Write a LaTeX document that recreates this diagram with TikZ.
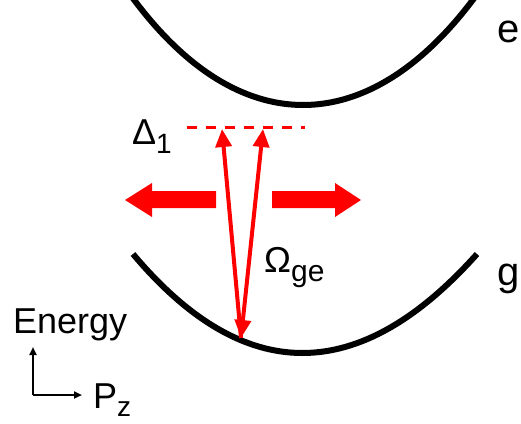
\documentclass[tikz,border=0pt]{standalone}
\usepackage{fontspec}
\setmainfont{Liberation Sans}
\usetikzlibrary{arrows.meta}
\begin{document}
\begin{tikzpicture}[x=1pt,y=-1pt,
  well/.style={line width=6pt,black},
  beam/.style={red,line width=4pt,-{Triangle[length=18pt,width=16pt]}},
  beambi/.style={red,line width=4pt,{Triangle[length=18pt,width=16pt]}-{Triangle[length=18pt,width=16pt]}},
  detuning/.style={red,line width=3pt,dash pattern=on 10pt off 9pt},
  bigarrow/.style={fill=red,draw=none},
  axisarrow/.style={line width=2pt,-{Triangle[length=8pt,width=7pt]}},
  lbl/.style={inner sep=0pt,anchor=base west,font=\fontsize{36}{42}\selectfont},
  statelbl/.style={inner sep=0pt,anchor=base west,font=\fontsize{40}{48}\selectfont}]
\useasboundingbox (0,0) rectangle (521,423);
% potential curves
\draw[well] (132,-3) .. controls (238,141) and (368,141) .. (475,-3);
\draw[well] (133,254) .. controls (244,386) and (359,386) .. (477,254);
% state labels
\node[statelbl] (e) at (497,42) {e};
\node[statelbl] (g) at (497,285) {g};
% detuning line
\coordinate (dl) at (187,127);
\coordinate (dr) at (305,127);
\draw[detuning] (dl) -- (dr);
\node[lbl] (delta) at (132,144) {Δ\raisebox{-9pt}{\fontsize{28}{32}\selectfont 1}};
% Raman beams
\coordinate (bot) at (241,338);
\coordinate (top1) at (222,129);
\coordinate (top2) at (263,129);
\draw[beam] (bot) -- (top1);
\draw[beambi] (bot) -- (top2);
\node[lbl] (omega) at (264,272) {Ω\raisebox{-9pt}{\fontsize{30}{34}\selectfont ge}};
% momentum kick arrows
\fill[bigarrow] (216,191) -- (152,191) -- (152,183) -- (125,200) -- (152,217) -- (152,208) -- (216,208) -- cycle;
\fill[bigarrow] (272,191) -- (335,191) -- (335,183) -- (361,200) -- (335,217) -- (335,208) -- (272,208) -- cycle;
% axes
\node[lbl] (energy) at (13,333) {Energy};
\coordinate (ax) at (33,395);
\coordinate (axup) at (33,347);
\coordinate (axright) at (82,395);
\draw[axisarrow] (ax) -- (axup);
\draw[axisarrow] (ax) -- (axright);
\node[lbl] (pz) at (93,408) {P\raisebox{-8pt}{\fontsize{28}{32}\selectfont z}};
\end{tikzpicture}
\end{document}
